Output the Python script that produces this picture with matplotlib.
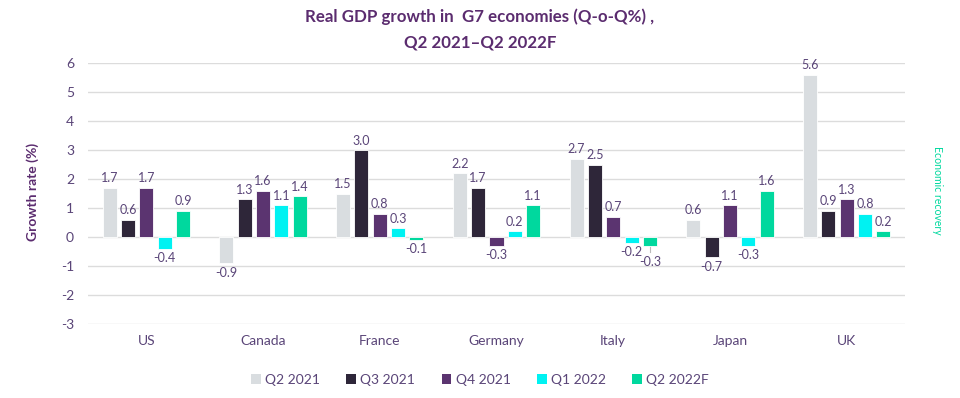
import matplotlib
matplotlib.use("Agg")
import matplotlib.pyplot as plt
import numpy as np
from matplotlib.patches import Patch

countries = ["US", "Canada", "France", "Germany", "Italy", "Japan", "UK"]
series_names = ["Q2 2021", "Q3 2021", "Q4 2021", "Q1 2022", "Q2 2022F"]
q2_2021 = [1.7, -0.9, 1.5, 2.2, 2.7, 0.6, 5.6]
q3_2021 = [0.6, 1.3, 3.0, 1.7, 2.5, -0.7, 0.9]
q4_2021 = [1.7, 1.6, 0.8, -0.3, 0.7, 1.1, 1.3]
q1_2022 = [-0.4, 1.1, 0.3, 0.2, -0.2, -0.3, 0.8]
q2_2022f = [0.9, 1.4, -0.1, 1.1, -0.3, 1.6, 0.2]
yticks = [-3, -2, -1, 0, 1, 2, 3, 4, 5, 6]

series = [q2_2021, q3_2021, q4_2021, q1_2022, q2_2022f]
colors = ["#d9dde0", "#2e2639", "#5b3470", "#00f2f2", "#00d89e"]

plt.rcParams['font.family'] = ['Lato', 'DejaVu Sans']
purple = "#5b2c6f"
label_col = "#5a4578"

fig = plt.figure(figsize=(9.6, 3.98), dpi=100)
ax = fig.add_axes([88/960, 1-324/398, (905-88)/960, (324-63)/398])

x = np.arange(len(countries))
step = 0.157
width = 0.12
for i, (vals, c, name) in enumerate(zip(series, colors, series_names)):
    pos = x + (i - 2) * step
    bars = ax.bar(pos, vals, width=width, color=c, edgecolor="white", linewidth=0.6, zorder=3)
    for j, (b, v) in enumerate(zip(bars, vals)):
        cx = b.get_x() + b.get_width()/2
        if v >= 0:
            ax.text(cx, v + 0.12, f"{v:.1f}", ha="center", va="bottom",
                    fontsize=9, color=label_col)
        else:
            extra = 0.0
            # avoid overlapping neighbour label (Italy Q2 2022F)
            if j > 0 and i > 0 and series[i-1][j] < 0 and abs(series[i-1][j] - v) < 0.2:
                extra = 0.25
                ax.plot([cx, cx], [v - 0.02, v - 0.2], color="#bbbbbb", linewidth=0.8, zorder=2)
            ax.text(cx, v - 0.12 - extra, f"{v:.1f}", ha="center", va="top",
                    fontsize=9, color=label_col)

ax.set_xlim(-0.5, len(countries) - 0.5)
ax.set_ylim(-3, 6)
ax.set_yticks(yticks)
ax.set_yticklabels([str(t) for t in yticks])
ax.set_xticks(x)
ax.set_xticklabels(countries)
ax.tick_params(axis="both", length=0, labelsize=10, colors=label_col)
ax.tick_params(axis="x", pad=8)
ax.tick_params(axis="y", pad=10)
for s in ax.spines.values():
    s.set_visible(False)
ax.grid(axis="y", color="#dcdcdc", linewidth=1, zorder=0)
ax.set_axisbelow(True)

fig.text(33/960, 1-192/398, "Growth rate (%)", rotation=90, ha="center", va="center",
         fontsize=10, fontweight="bold", color=purple)
fig.text(937/960, 1-190/398, "Economic recovery", rotation=270, ha="center", va="center",
         fontsize=7.6, color="#00d89e")

fig.text(0.5, 1-17/398, "Real GDP growth in  G7 economies (Q-o-Q%) ,", ha="center", va="center",
         fontsize=12.2, fontweight="bold", color=purple)
fig.text(0.5, 1-43/398, "Q2 2021\u2013Q2 2022F", ha="center", va="center",
         fontsize=12.2, fontweight="bold", color=purple)

handles = [Patch(facecolor=c, edgecolor="none") for c in colors]
leg = fig.legend(handles, series_names, loc="center", bbox_to_anchor=(0.5, 1-380/398), ncol=5,
                 frameon=False, fontsize=10, handlelength=0.7, handleheight=0.7,
                 handletextpad=0.3, columnspacing=1.9)
for t in leg.get_texts():
    t.set_color(label_col)

fig.savefig("out.png", dpi=100, facecolor="white")
